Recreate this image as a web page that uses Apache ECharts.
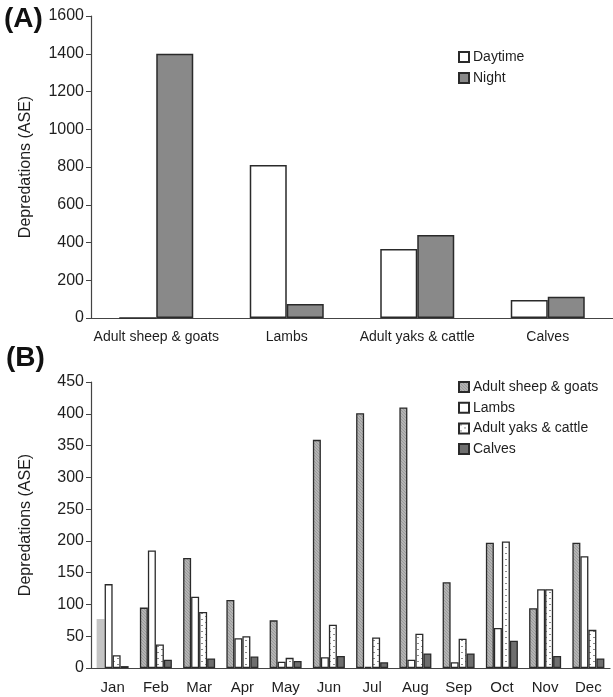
<!DOCTYPE html>
<html>
<head>
<meta charset="utf-8">
<script src="https://cdn.jsdelivr.net/npm/echarts@6/dist/echarts.min.js"></script>
<style>
html,body{margin:0;padding:0;background:#fff;}
#chart{width:613px;height:697px;}
</style>
</head>
<body>
<div id="chart"></div>
<script>
// Panel A data
const catsA = ['Adult sheep & goats', 'Lambs', 'Adult yaks & cattle', 'Calves'];
const daytime = [0, 810, 365, 95];
const night = [1400, 74, 440, 113];
const ticksA = [0, 200, 400, 600, 800, 1000, 1200, 1400, 1600];

// Panel B data
const months = ['Jan','Feb','Mar','Apr','May','Jun','Jul','Aug','Sep','Oct','Nov','Dec'];
const sheepGoats = [77, 95, 173, 107, 75, 359, 401, 410, 135, 197, 94, 197];
const lambs = [132, 185, 112, 47, 10, 17, 2, 13, 9, 63, 124, 176];
const yaksCattle = [20, 37, 88, 50, 16, 68, 48, 54, 46, 199, 124, 60];
const calves = [3, 13, 15, 18, 11, 19, 9, 23, 23, 43, 19, 15];
const ticksB = [0, 50, 100, 150, 200, 250, 300, 350, 400, 450];

function makePattern(type) {
  const c = document.createElement('canvas');
  if (type === 'dash') {
    c.width = 8; c.height = 6;
    const g = c.getContext('2d');
    g.fillStyle = '#ffffff'; g.fillRect(0, 0, 8, 6);
    g.fillStyle = '#8a8a8a';
    g.fillRect(1, 1, 2, 1);
    g.fillRect(5, 4, 2, 1);
  } else {
    c.width = 3; c.height = 3;
    const g = c.getContext('2d');
    g.fillStyle = '#b4b4b4'; g.fillRect(0, 0, 3, 3);
    g.fillStyle = '#9a9a9a';
    g.fillRect(0, 0, 1, 1); g.fillRect(1, 1, 1, 1); g.fillRect(2, 2, 1, 1);
  }
  return { image: c, repeat: 'repeat' };
}

const FONT = 'Liberation Sans, Arial, sans-serif';
const TXT = '#1e1e1e';
const AX = '#444';
const BORDER = '#2a2a2a';
const plain = v => String(v);

const chart = echarts.init(document.getElementById('chart'), null, { renderer: 'canvas' });

const sheepColor = makePattern('hatch');
const yaksColor = makePattern('dash');

const option = {
  animation: false,
  backgroundColor: '#fff',
  textStyle: { fontFamily: FONT, color: TXT },
  graphic: [
    { type: 'text', left: 4, top: 5, style: { text: '(A)', font: 'bold 28px ' + FONT, fill: '#111' } },
    { type: 'text', left: 6, top: 344, style: { text: '(B)', font: 'bold 28px ' + FONT, fill: '#111' } }
  ],
  legend: [
    {
      data: ['Daytime', 'Night'],
      orient: 'vertical', left: 453, top: 45,
      itemWidth: 10, itemHeight: 10, itemGap: 7,
      icon: 'rect',
      textStyle: { fontSize: 14, color: TXT, fontFamily: FONT, lineHeight: 14, padding: [0, 0, 0, -1] }
    },
    {
      data: ['Adult sheep & goats', 'Lambs', 'Adult yaks & cattle', 'Calves'],
      orient: 'vertical', left: 453, top: 375,
      itemWidth: 10, itemHeight: 10, itemGap: 6.7,
      icon: 'rect',
      textStyle: { fontSize: 14, color: TXT, fontFamily: FONT, lineHeight: 14, padding: [0, 0, 0, -1] }
    }
  ],
  grid: [
    { left: 91, top: 16, right: 0, height: 302 },
    { left: 91, top: 382, right: 3, height: 286 }
  ],
  xAxis: [
    {
      type: 'category', gridIndex: 0, data: catsA,
      axisLine: { lineStyle: { color: AX, width: 1.2 } },
      axisTick: { inside: true, length: 4, lineStyle: { color: AX } },
      axisLabel: { fontSize: 14, color: TXT, margin: 12, interval: 0, fontFamily: FONT }
    },
    {
      type: 'category', gridIndex: 1, data: months,
      axisLine: { lineStyle: { color: AX, width: 1.2 } },
      axisTick: { inside: true, length: 4, lineStyle: { color: AX } },
      axisLabel: { fontSize: 15, color: TXT, margin: 12, interval: 0, fontFamily: FONT }
    }
  ],
  yAxis: [
    {
      type: 'value', gridIndex: 0, min: ticksA[0], max: ticksA[ticksA.length - 1], interval: 200,
      name: 'Depredations (ASE)', nameLocation: 'middle', nameGap: 57,
      nameTextStyle: { fontSize: 16, color: TXT, fontFamily: FONT },
      axisLine: { show: true, lineStyle: { color: AX, width: 1.2 } },
      axisTick: { show: true, length: 5, lineStyle: { color: AX } },
      splitLine: { show: false },
      axisLabel: { fontSize: 16, color: TXT, margin: 7, fontFamily: FONT, formatter: plain }
    },
    {
      type: 'value', gridIndex: 1, min: ticksB[0], max: ticksB[ticksB.length - 1], interval: 50,
      name: 'Depredations (ASE)', nameLocation: 'middle', nameGap: 57,
      nameTextStyle: { fontSize: 16, color: TXT, fontFamily: FONT },
      axisLine: { show: true, lineStyle: { color: AX, width: 1.2 } },
      axisTick: { show: true, length: 5, lineStyle: { color: AX } },
      splitLine: { show: false },
      axisLabel: { fontSize: 16, color: TXT, margin: 7, fontFamily: FONT, formatter: plain }
    }
  ],
  series: [
    {
      name: 'Daytime', type: 'bar', xAxisIndex: 0, yAxisIndex: 0,
      data: daytime, barWidth: 37, barGap: '0%',
      itemStyle: { color: '#ffffff', borderColor: BORDER, borderWidth: 1.5 }
    },
    {
      name: 'Night', type: 'bar', xAxisIndex: 0, yAxisIndex: 0,
      data: night, barWidth: 37, barGap: '0%',
      itemStyle: { color: '#898989', borderColor: BORDER, borderWidth: 1.5 }
    },
    {
      name: 'Adult sheep & goats', type: 'bar', xAxisIndex: 1, yAxisIndex: 1,
      data: sheepGoats.map((v, i) => i === 0
        ? { value: v, itemStyle: { color: '#c4c4c4', borderWidth: 0 } }
        : v),
      barWidth: 8, barGap: '0%',
      itemStyle: { color: sheepColor, borderColor: BORDER, borderWidth: 1.3 }
    },
    {
      name: 'Lambs', type: 'bar', xAxisIndex: 1, yAxisIndex: 1,
      data: lambs, barWidth: 8, barGap: '0%',
      itemStyle: { color: '#ffffff', borderColor: BORDER, borderWidth: 1.3 }
    },
    {
      name: 'Adult yaks & cattle', type: 'bar', xAxisIndex: 1, yAxisIndex: 1,
      data: yaksCattle, barWidth: 8, barGap: '0%',
      itemStyle: { color: yaksColor, borderColor: BORDER, borderWidth: 1.3 }
    },
    {
      name: 'Calves', type: 'bar', xAxisIndex: 1, yAxisIndex: 1,
      data: calves, barWidth: 8, barGap: '0%',
      itemStyle: { color: '#6e6e6e', borderColor: BORDER, borderWidth: 1.3 }
    }
  ]
};
chart.setOption(option);
</script>
</body>
</html>
